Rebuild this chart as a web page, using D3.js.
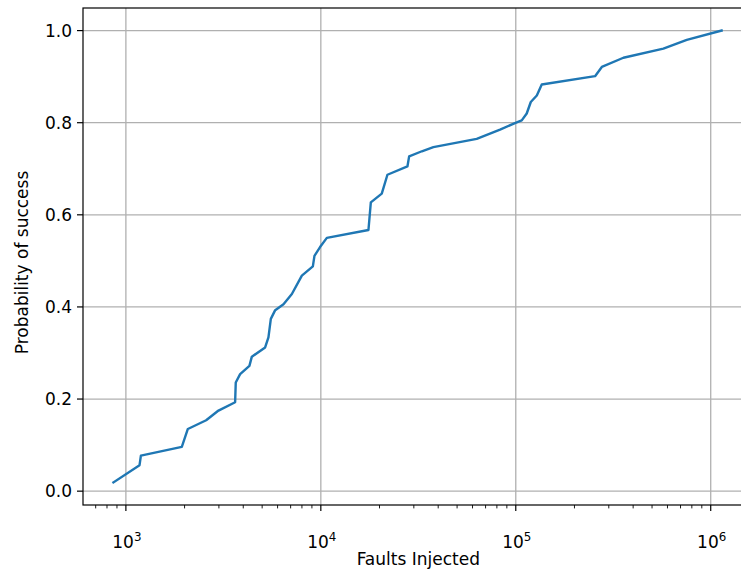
<!DOCTYPE html>
<html>
<head>
<meta charset="utf-8">
<script src="https://cdn.jsdelivr.net/npm/d3@7"></script>
<style>
html,body{margin:0;padding:0;background:#fff;}
svg{display:block;font-family:"DejaVu Sans",sans-serif;}
</style>
</head>
<body>
<svg id="chart" width="741" height="571"></svg>
<script>
const faults = [863, 1175, 1194, 1936, 2079, 2581, 2986, 3634, 3661, 3855, 4302, 4427, 5180, 5386, 5540, 5833, 6435, 7103, 7993, 9101, 9275, 9909, 10735, 17550, 18050, 20540, 21960, 27810, 28380, 32980, 37780, 63040, 83040, 99000, 107300, 113800, 119400, 128200, 135900, 255100, 276300, 356500, 571700, 753700, 1137000];
const prob = [0.019, 0.0565, 0.077, 0.096, 0.135, 0.154, 0.175, 0.193, 0.236, 0.254, 0.272, 0.292, 0.312, 0.334, 0.374, 0.393, 0.406, 0.428, 0.468, 0.488, 0.511, 0.530, 0.550, 0.567, 0.627, 0.646, 0.687, 0.705, 0.727, 0.738, 0.747, 0.765, 0.785, 0.799, 0.805, 0.820, 0.845, 0.859, 0.883, 0.901, 0.921, 0.941, 0.961, 0.980, 1.0];
const yTicks = [0.0, 0.2, 0.4, 0.6, 0.8, 1.0];
const xMajorTicks = [1e3, 1e4, 1e5, 1e6];
const xLabel = "Faults Injected";
const yLabel = "Probability of success";

const svg = d3.select("#chart");
const L = 83, T = 8, B = 505, R = 752;
const FS = 17;

const lx = d3.extent(faults, d => Math.log10(d));
const mx = (lx[1] - lx[0]) * 0.05;
const x = d3.scaleLog().domain([Math.pow(10, lx[0] - mx), Math.pow(10, lx[1] + mx)]).range([L, R]);
const ey = d3.extent(prob);
const my = (ey[1] - ey[0]) * 0.05;
const y = d3.scaleLinear().domain([ey[0] - my, ey[1] + my]).range([B, T]);

const gridColor = "#b0b0b0";
svg.append("g").selectAll("line").data(xMajorTicks).join("line")
  .attr("x1", d => x(d)).attr("x2", d => x(d)).attr("y1", T).attr("y2", B)
  .attr("stroke", gridColor).attr("stroke-width", 1.3);
svg.append("g").selectAll("line").data(yTicks).join("line")
  .attr("x1", L).attr("x2", R).attr("y1", d => y(d)).attr("y2", d => y(d))
  .attr("stroke", gridColor).attr("stroke-width", 1.3);

const data = faults.map((f, i) => [f, prob[i]]);
svg.append("path").datum(data)
  .attr("fill", "none").attr("stroke", "#1f77b4").attr("stroke-width", 2.4)
  .attr("stroke-linejoin", "round").attr("stroke-linecap", "square")
  .attr("d", d3.line().x(d => x(d[0])).y(d => y(d[1])));

svg.append("rect").attr("x", L).attr("y", T).attr("width", R - L).attr("height", B - T)
  .attr("fill", "none").attr("stroke", "#000").attr("stroke-width", 1.2);

const allTicks = x.ticks().filter(t => t >= x.domain()[0] && t <= x.domain()[1]);
const isMajor = t => Math.abs(Math.log10(t) - Math.round(Math.log10(t))) < 1e-9;
const gx = svg.append("g");
gx.selectAll("line").data(allTicks).join("line")
  .attr("x1", d => x(d)).attr("x2", d => x(d))
  .attr("y1", B).attr("y2", d => B + (isMajor(d) ? 6 : 3.4))
  .attr("stroke", "#000").attr("stroke-width", d => isMajor(d) ? 1.2 : 0.9);
const xl = gx.selectAll("text").data(xMajorTicks).join("text")
  .attr("x", d => x(d) + 1).attr("y", 548)
  .attr("text-anchor", "middle").attr("font-size", FS).attr("fill", "#000");
xl.append("tspan").text("10");
xl.append("tspan").attr("dy", -7).attr("font-size", FS * 0.7).text(d => Math.round(Math.log10(d)));

const gy = svg.append("g");
gy.selectAll("line").data(yTicks).join("line")
  .attr("x1", L - 6).attr("x2", L).attr("y1", d => y(d)).attr("y2", d => y(d))
  .attr("stroke", "#000").attr("stroke-width", 1.2);
gy.selectAll("text").data(yTicks).join("text")
  .attr("x", L - 11).attr("y", d => y(d)).attr("dy", "0.36em")
  .attr("text-anchor", "end").attr("font-size", FS).attr("fill", "#000")
  .text(d => d3.format(".1f")(d));

svg.append("text").attr("x", (x(1e3) + x(1e6)) / 2).attr("y", 565)
  .attr("text-anchor", "middle").attr("font-size", FS).text(xLabel);
svg.append("text").attr("transform", `translate(28,${(T + B) / 2 + 6}) rotate(-90)`)
  .attr("text-anchor", "middle").attr("font-size", FS).text(yLabel);
</script>
</body>
</html>
